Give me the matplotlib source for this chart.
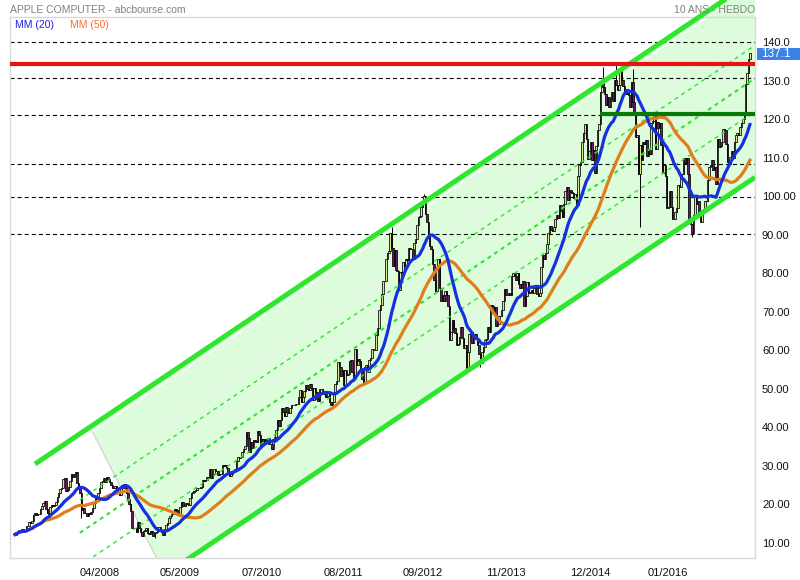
import numpy as np
import pandas as pd
import matplotlib
matplotlib.use("Agg")
from matplotlib import pyplot as plt
from matplotlib import transforms
from matplotlib.patches import Polygon, Rectangle

plt.rcParams['font.family'] = ['Liberation Sans', 'DejaVu Sans']
plt.rcParams['lines.scale_dashes'] = False

# weekly closes, one bar per week, from week of 26/02/2007 to week of 20/02/2017
close_2007 = [12.2, 12.7, 12.8, 13.4, 13.3, 13.5, 13.2, 13.0, 14.3, 14.4,
              15.5, 15.3, 15.8, 17.3, 17.8, 17.2, 17.6, 17.4, 18.9, 19.7,
              20.5, 20.9, 18.8, 17.9, 17.4, 19.3, 19.8, 19.5, 19.8, 20.6,
              21.9, 23.1, 24.0, 24.3, 26.6, 26.8, 23.6, 23.8, 24.5, 26.0,
              27.8, 27.2, 27.7, 28.5, 25.7]
close_2008 = [24.7, 23.1, 18.6, 19.1, 17.9, 17.8, 17.1, 17.9, 17.5, 18.1,
              19.0, 20.4, 21.9, 21.0, 23.0, 24.2, 25.8, 26.2, 26.8, 25.9,
              27.0, 26.5, 25.9, 25.0, 24.3, 24.3, 24.7, 23.6, 23.1, 22.4,
              24.2, 25.1, 25.3, 24.2, 22.9, 21.3, 20.1, 18.3, 13.9, 13.8,
              13.9, 12.9, 15.4, 13.8, 12.9, 11.8, 13.2, 13.4, 14.0, 12.7,
              12.3, 13.0]
close_2009 = [12.9, 11.8, 12.6, 12.9, 14.2, 14.2, 13.0, 12.8, 12.2, 13.6,
              14.6, 15.3, 16.6, 17.1, 17.6, 17.7, 18.9, 18.5, 17.5, 17.5,
              19.4, 20.7, 19.6, 19.6, 20.3, 20.0, 19.8, 21.7, 22.9, 23.3,
              23.6, 23.8, 24.2, 24.3, 24.3, 24.6, 26.4, 26.1, 26.4, 27.2,
              26.9, 29.3, 26.9, 27.8, 29.2, 28.6, 28.6, 27.6, 27.8, 27.9,
              30.2, 30.1]
close_2010 = [30.3, 29.4, 28.3, 27.4, 27.9, 28.6, 28.7, 29.2, 31.3, 32.4,
              32.1, 32.4, 33.7, 34.5, 35.3, 38.7, 37.3, 33.7, 36.3, 34.6,
              36.7, 36.6, 36.2, 39.2, 38.1, 35.3, 37.1, 35.7, 37.1, 36.8,
              37.2, 35.6, 35.7, 34.5, 37.0, 37.6, 39.3, 41.8, 40.4, 42.0,
              45.0, 43.9, 43.0, 45.4, 44.0, 43.8, 45.0, 45.7, 45.8, 45.8,
              46.2, 46.1]
close_2011 = [48.0, 49.8, 46.7, 48.0, 49.5, 51.0, 50.1, 49.7, 51.4, 50.3,
              47.1, 50.2, 49.2, 47.3, 46.8, 50.1, 50.0, 49.5, 48.6, 47.9,
              48.2, 49.1, 46.6, 45.8, 46.6, 49.0, 51.4, 52.1, 57.0, 55.8,
              53.4, 54.8, 50.9, 54.8, 53.7, 53.9, 57.2, 57.6, 54.5, 52.8,
              60.3, 56.1, 57.8, 57.2, 54.9, 52.7, 51.9, 55.7, 56.2, 54.4,
              57.6, 57.9]
close_2012 = [60.3, 60.0, 60.0, 63.9, 65.7, 70.5, 71.7, 74.6, 77.9, 77.9,
              83.7, 85.2, 85.7, 90.5, 86.5, 81.9, 86.1, 80.8, 80.6, 75.8,
              80.3, 80.1, 82.9, 82.0, 83.6, 83.4, 86.6, 86.4, 86.3, 83.6,
              88.0, 88.8, 92.6, 94.7, 95.0, 97.2, 98.8, 100.0, 95.3, 93.2,
              90.0, 87.1, 86.3, 82.4, 78.2, 75.4, 81.6, 83.6, 76.2, 72.8,
              74.3, 72.8, 75.3]
close_2013 = [74.3, 71.5, 62.8, 64.8, 67.9, 65.7, 64.4, 61.5, 61.7, 63.4,
              66.0, 63.2, 60.5, 61.4, 55.8, 59.6, 64.3, 64.7, 61.9, 63.6,
              64.2, 63.1, 61.4, 59.1, 56.6, 59.6, 60.9, 62.6, 63.0, 66.1,
              64.9, 71.8, 71.6, 69.6, 71.2, 66.4, 66.8, 69.0, 69.0, 70.4,
              72.7, 76.0, 74.3, 74.4, 75.0, 74.3, 79.4, 80.0, 79.2, 78.4,
              80.0, 77.3]
close_2014 = [76.1, 77.2, 78.0, 71.5, 74.2, 77.7, 75.0, 75.2, 75.8, 75.0,
              76.1, 76.7, 74.7, 74.2, 75.0, 81.7, 84.7, 83.6, 85.4, 87.7,
              90.4, 92.2, 91.3, 90.9, 92.0, 94.0, 95.2, 94.4, 97.7, 96.1,
              94.7, 98.0, 101.3, 102.5, 99.0, 101.7, 101.0, 100.8, 99.6, 100.7,
              97.7, 105.2, 108.0, 109.0, 114.2, 116.5, 118.9, 115.0, 109.7, 111.8,
              114.0, 109.3]
close_2015 = [112.0, 106.0, 113.0, 117.2, 118.9, 127.1, 129.5, 128.5, 126.6, 123.6,
              125.9, 123.3, 125.3, 127.1, 124.8, 130.3, 129.0, 127.6, 128.8, 132.5,
              130.3, 128.7, 127.2, 126.6, 126.8, 126.4, 123.3, 129.6, 124.5, 121.3,
              115.5, 116.0, 105.8, 113.3, 109.3, 114.2, 113.5, 114.7, 110.4, 112.1,
              111.0, 119.1, 119.5, 121.1, 112.3, 119.3, 117.8, 119.0, 113.2, 106.0,
              108.0, 105.3]
close_2016 = [97.0, 97.1, 101.4, 97.3, 94.0, 94.0, 96.0, 96.9, 103.0, 102.3,
              105.9, 105.7, 110.0, 108.7, 109.9, 105.7, 93.7, 92.7, 90.5, 95.2,
              100.4, 97.9, 98.8, 95.3, 93.4, 95.9, 96.7, 98.8, 98.7, 104.2,
              107.5, 108.2, 109.4, 106.9, 107.7, 103.1, 114.9, 112.7, 113.1, 114.1,
              117.6, 117.1, 113.7, 108.8, 108.4, 110.1, 111.8, 109.9, 114.0, 116.0,
              116.5, 115.8]
close_2017 = [117.9, 119.0, 120.0, 122.0, 129.1, 132.1, 135.7, 137.1]

# intraday extremes of the weeks with long shadows (bar index: price)
spike_highs = {267: 92.0, 290: 100.7, 417: 133.6, 426: 134.5, 438: 133.0}
spike_lows = {47: 16.4, 99: 11.2, 320: 55.0, 330: 55.6, 443: 92.0, 480: 89.5}

x_tick_bars = [60, 117, 175, 233, 289, 348, 408, 463]
x_tick_labels = ['04/2008', '05/2009', '07/2010', '08/2011',
                 '09/2012', '11/2013', '12/2014', '01/2016']
y_ticks = [10, 20, 30, 40, 50, 60, 70, 80, 90, 100, 110, 120, 130, 140]
y_tick_labels = ['10.00', '20.00', '30.00', '40.00', '50.00', '60.00', '70.00',
                 '80.00', '90.00', '100.00', '110.0', '120.0', '130.0', '140.0']

# drawn levels
dashed_levels = [140.0, 130.6, 121.0, 108.5, 99.7, 90.1]
red_level = 134.3
green_level = 121.4
green_level_start = 414.7

# trend channel: upper line anchor (bar, price), slope per bar, width in price
chan_bar0, chan_price0 = 14.2, 30.5
chan_slope = 0.2465
chan_width = 51.4
fill_edge = (53.2, 106.3)

closes = np.array(close_2007 + close_2008 + close_2009 + close_2010 + close_2011 +
                  close_2012 + close_2013 + close_2014 + close_2015 + close_2016 +
                  close_2017)
n = len(closes)
bars = np.arange(n)
opens = np.r_[closes[0], closes[:-1]]
highs = np.maximum(opens, closes)
lows = np.minimum(opens, closes)
for k, v in spike_highs.items():
    highs[k] = max(highs[k], v)
for k, v in spike_lows.items():
    lows[k] = min(lows[k], v)

s = pd.Series(closes)
mm20 = s.rolling(20, min_periods=1).mean()
mm50 = s.rolling(50, min_periods=1).mean()

xmin, xmax = -3.54, 524.6
ymin, ymax = 6.1, 146.55

fig = plt.figure(figsize=(8, 5.8), dpi=100)
ax = fig.add_axes([10 / 800, 22 / 580, 745 / 800, 541 / 580])


def chan(b, f):
    return chan_price0 + chan_slope * (b - chan_bar0) - f * chan_width


clip_box = Rectangle((0, 0), 1, 1.2, transform=ax.transAxes)

# channel fill
e0, e1 = fill_edge
poly = Polygon([(e0, chan(e0, 0)), (xmax, chan(xmax, 0)),
                (xmax, chan(xmax, 1)), (e1, chan(e1, 1))],
               closed=True, facecolor='#dcfcdc', edgecolor='none', zorder=0.5)
ax.add_patch(poly)
poly.set_clip_path(clip_box)
ax.plot([e0, e1], [chan(e0, 0), chan(e1, 1)], color='#cfcfcf', lw=0.8, zorder=0.6)

for f, col in [(0.03, '#ffffff'), (0.25, '#eeeeee'), (0.75, '#eeeeee')]:
    b0 = e0 + f * (e1 - e0)
    ax.plot([b0, xmax], [chan(b0, f), chan(xmax, f)], color=col, lw=0.9, zorder=0.7)

for f, lw in [(1 / 3, 1.0), (0.5, 1.5), (2 / 3, 1.0)]:
    ax.plot([46, xmax], [chan(46, f), chan(xmax, f)], color='#2ee62e', lw=lw,
            ls=(0, (2.9, 2.9)), zorder=2.5)

for lv in dashed_levels:
    ax.axhline(lv, color='black', lw=0.8, ls=(0, (2.9, 2.2)), zorder=1.5)

# candles
up = closes >= opens
ax.vlines(bars, lows, highs, color='black', lw=0.7, zorder=2)
ax.bar(bars[up], (closes - opens)[up], bottom=opens[up], width=1.1,
       color='#d9e884', edgecolor='black', linewidth=0.55, zorder=2.1)
ax.bar(bars[~up], (opens - closes)[~up], bottom=closes[~up], width=1.1,
       color='#6a1f63', edgecolor='black', linewidth=0.55, zorder=2.1)

ax.plot(bars, mm50, color='#e07e1c', lw=2.3, zorder=3)
ax.plot(bars, mm20, color='#1530e0', lw=2.3, zorder=3.1)

# channel borders
upper, = ax.plot([chan_bar0, xmax], [chan(chan_bar0, 0), chan(xmax, 0)],
                 color='#2ee62e', lw=3.6, solid_capstyle='butt', zorder=4)
upper.set_clip_path(clip_box)
ax.plot([100, xmax], [chan(100, 1), chan(xmax, 1)],
        color='#2ee62e', lw=3.6, solid_capstyle='butt', zorder=4)

ax.axhline(red_level, color='#e81414', lw=3.0, zorder=4)
ax.hlines(green_level, green_level_start, xmax, color='#087a08', lw=3.0, zorder=4)

ax.set_xlim(xmin, xmax)
ax.set_ylim(ymin, ymax)

ax.set_xticks(x_tick_bars)
ax.set_xticklabels(x_tick_labels)
ax.yaxis.tick_right()
ax.set_yticks(y_ticks)
ax.set_yticklabels(y_tick_labels)
ax.tick_params(axis='y', length=0, pad=5, labelsize=8, colors='#111111')
ax.tick_params(axis='x', length=0, pad=7, labelsize=8, colors='#111111')
for sp in ax.spines.values():
    sp.set_color('#d9d9d9')
    sp.set_linewidth(1.0)

# last price tag
blend = transforms.blended_transform_factory(fig.transFigure, ax.transData)
ax.add_patch(Rectangle((757 / 800, closes[-1] - 1.75), 43 / 800, 3.1, transform=blend,
                       facecolor='#3c82e6', edgecolor='none', clip_on=False, zorder=5))
ax.text(761 / 800, closes[-1] - 0.2, f"{closes[-1]:.1f}", transform=blend, color='white',
        fontsize=8.5, ha='left', va='center', zorder=6, clip_on=False)

fig.text(10 / 800, 1 - 10 / 580, 'APPLE COMPUTER - abcbourse.com', color='#808080',
         fontsize=7.5, ha='left', va='center')
fig.text(755 / 800, 1 - 10 / 580, '10 ANS - HEBDO', color='#808080',
         fontsize=7.5, ha='right', va='center', zorder=10)
fig.text(15 / 800, 1 - 25 / 580, 'MM (20)', color='#1f1fe6', fontsize=7.5,
         ha='left', va='center')
fig.text(70 / 800, 1 - 25 / 580, 'MM (50)', color='#ff6e28', fontsize=7.5,
         ha='left', va='center')

fig.savefig('out.png', dpi=100)
